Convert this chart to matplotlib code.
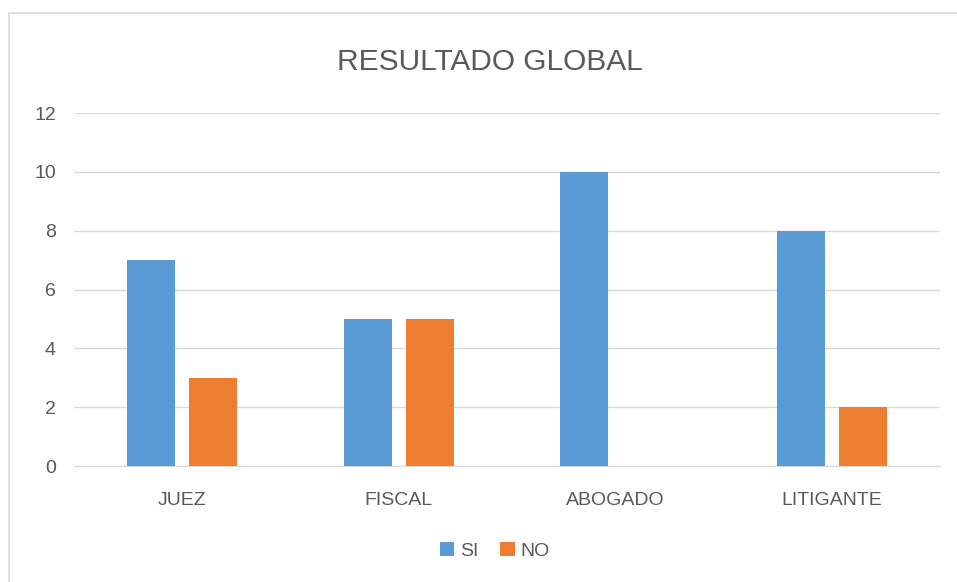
import numpy as np
import matplotlib.pyplot as plt
from matplotlib.patches import Rectangle

# Datos
categorias = ['JUEZ', 'FISCAL', 'ABOGADO', 'LITIGANTE']
valores_si = [7, 5, 10, 8]
valores_no = [3, 5, 0, 2]
color_si = '#5B9BD5'
color_no = '#ED7D31'

plt.rcParams['font.family'] = ['Liberation Sans', 'DejaVu Sans']

fig = plt.figure(figsize=(9.57, 5.82), dpi=100)
ax = fig.add_axes([0.0773, 0.1993, 0.905, 0.6065])

x = np.arange(len(categorias))
ancho = 0.222
ax.bar(x - 0.143, valores_si, ancho, color=color_si, label='SI', zorder=3)
ax.bar(x + 0.143, valores_no, ancho, color=color_no, label='NO', zorder=3)

ax.set_xlim(-0.5, len(categorias) - 0.5)
ax.set_ylim(0, 12)
ax.set_yticks(range(0, 13, 2))
ax.set_xticks(x)
ax.set_xticklabels(categorias)
ax.yaxis.grid(True, color='#D9D9D9', linewidth=1, zorder=0)
ax.tick_params(axis='both', length=0, labelsize=14, colors='#595959')
ax.tick_params(axis='y', pad=13)
ax.tick_params(axis='x', pad=19)
for lado in ['top', 'right', 'left']:
    ax.spines[lado].set_visible(False)
ax.spines['bottom'].set_color('#D9D9D9')

fig.text(0.512, 0.894, 'RESULTADO GLOBAL', ha='center', va='center',
         fontsize=21.5, color='#595959')

fig.legend(loc='center', bbox_to_anchor=(0.517, 0.053), ncol=2, frameon=False,
           fontsize=14, handlelength=0.75, handleheight=0.75, columnspacing=1.1,
           handletextpad=0.3, labelcolor='#595959')

# borde del area del grafico (solo visible a la izquierda y arriba)
fig.patches.append(Rectangle((9 / 957, -0.05), 1.0, 1 - 13 / 582 + 0.05,
                             transform=fig.transFigure, fill=False,
                             edgecolor='#D9D9D9', linewidth=1.2))

fig.savefig('out.png', dpi=100)
